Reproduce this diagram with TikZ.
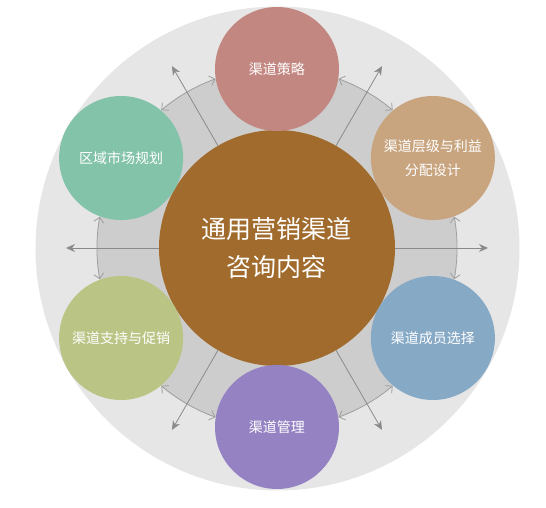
\documentclass[tikz,border=0pt]{standalone}
\usepackage{fontspec}
\setmainfont{Noto Sans CJK SC}
\usetikzlibrary{arrows.meta}
\definecolor{outerbg}{HTML}{E6E6E6}
\definecolor{innerbg}{HTML}{CDCDCD}
\definecolor{core}{HTML}{A06B2D}
\definecolor{cred}{HTML}{C38781}
\definecolor{ctan}{HTML}{C8A47F}
\definecolor{cblue}{HTML}{86A9C6}
\definecolor{cpurple}{HTML}{9582C2}
\definecolor{cgreen}{HTML}{BAC585}
\definecolor{cteal}{HTML}{83C3AA}
\definecolor{radline}{HTML}{8A8A8A}
\definecolor{arcline}{HTML}{9E9E9E}
\tikzset{
  satnode/.style={circle, minimum size=124pt, inner sep=0pt, text=white, align=center,
    font=\fontsize{14}{24}\selectfont},
  corenode/.style={circle, minimum size=236pt, inner sep=0pt, fill=core, text=white, align=center,
    font=\fontsize{25}{38}\selectfont},
  radarrow/.style={draw=radline, line width=0.8pt, -{Stealth[length=9pt,width=8pt]}},
  arcarrow/.style={draw=arcline, line width=0.8pt, {Straight Barb[length=5pt,width=10pt]}-{Straight Barb[length=5pt,width=10pt]}}
}
\begin{document}
\begin{tikzpicture}[x=1pt,y=1pt]
\useasboundingbox (-277,-260) rectangle (269,248);
% backgrounds
\fill[outerbg] (0.5,-0.5) circle[radius=242];
\fill[innerbg] (0,0) circle[radius=180];
% curved double arrows
\coordinate (arcA) at (10:180);
\coordinate (arcB) at (70:180);
\coordinate (arcC) at (130:180);
\coordinate (arcD) at (190:180);
\coordinate (arcE) at (250:180);
\coordinate (arcF) at (310:180);
\draw[arcarrow] (arcA) arc[start angle=10, end angle=-10, radius=180];
\draw[arcarrow] (arcB) arc[start angle=70, end angle=50, radius=180];
\draw[arcarrow] (arcC) arc[start angle=130, end angle=110, radius=180];
\draw[arcarrow] (arcD) arc[start angle=190, end angle=170, radius=180];
\draw[arcarrow] (arcE) arc[start angle=250, end angle=230, radius=180];
\draw[arcarrow] (arcF) arc[start angle=310, end angle=290, radius=180];
% core
\node[corenode] (core) at (0,0) {通用营销渠道\\咨询内容};
% radial arrows
\coordinate (tip0) at (0:211);
\coordinate (tip60) at (60:210);
\coordinate (tip120) at (120:210);
\coordinate (tip180) at (180:211);
\coordinate (tip240) at (240:210);
\coordinate (tip300) at (300:210);
\draw[radarrow] (core.0) -- (tip0);
\draw[radarrow] (core.60) -- (tip60);
\draw[radarrow] (core.120) -- (tip120);
\draw[radarrow] (core.180) -- (tip180);
\draw[radarrow] (core.240) -- (tip240);
\draw[radarrow] (core.300) -- (tip300);
% satellites
\node[satnode, fill=cred]    (s1) at (90:179)  {渠道策略};
\node[satnode, fill=ctan]    (s2) at (30:180)  {渠道层级与利益\\分配设计};
\node[satnode, fill=cblue]   (s3) at (-30:180) {渠道成员选择};
\node[satnode, fill=cpurple] (s4) at (-90:179) {渠道管理};
\node[satnode, fill=cgreen]  (s5) at (210:180) {渠道支持与促销};
\node[satnode, fill=cteal]   (s6) at (150:180) {区域市场规划};
\end{tikzpicture}
\end{document}
